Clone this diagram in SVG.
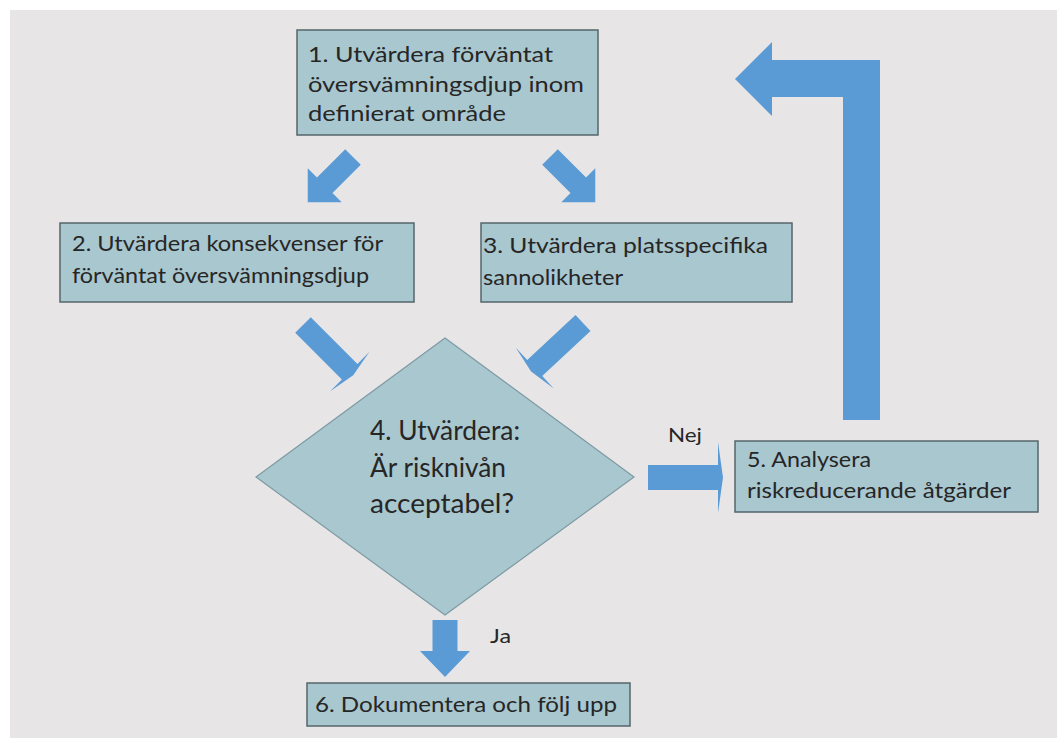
<svg xmlns="http://www.w3.org/2000/svg" width="1057" height="738" viewBox="0 0 1057 738">
<style>
.box{fill:#a9c7cf;stroke:#56656b;stroke-width:1.5}
.dia{fill:#a9c7cf;stroke:#7d9aa3;stroke-width:1.2}
.arr{fill:#5b9bd5}
.t{font-family:Lato,"Open Sans","Liberation Sans",sans-serif;font-size:21px;fill:#262626}
.td{font-family:Lato,"Open Sans","Liberation Sans",sans-serif;font-size:26px;fill:#262626}
.tl{font-family:Lato,"Open Sans","Liberation Sans",sans-serif;font-size:19px;fill:#262626}
</style>
<rect x="0" y="0" width="1057" height="738" fill="#ffffff"/>
<rect x="10" y="10" width="1047" height="728" fill="#e7e5e6"/>
<g id="connectors">
<path class="arr" transform="translate(353,157) rotate(135)" d="M0,-11 L40,-11 L40,-24 L64,0 L40,24 L40,11 L0,11 Z"/>
<path class="arr" transform="translate(550,157) rotate(45)" d="M0,-11 L40,-11 L40,-24 L64,0 L40,24 L40,11 L0,11 Z"/>
<path class="arr" transform="translate(303,325) rotate(45)" d="M0,-11 L66,-11 L66,-28 L71,0 L66,28 L66,11 L0,11 Z"/>
<path class="arr" transform="translate(583,323) rotate(137)" d="M0,-11 L66,-11 L66,-28 L71,0 L66,28 L66,11 L0,11 Z"/>
<path class="arr" d="M648,465 L718,465 L718,442 L723,477.5 L718,513 L718,490 L648,490 Z"/>
<path class="arr" d="M432.5,620 L457.5,620 L457.5,651 L470,651 L445,677 L420,651 L432.5,651 Z"/>
<path class="arr" d="M843,420 L880,420 L880,60 L772,60 L772,42 L735,79 L772,116 L772,97 L843,97 Z"/>
<text class="tl" x="668" y="442" textLength="34" lengthAdjust="spacingAndGlyphs">Nej</text>
<text class="tl" x="490" y="643" textLength="21" lengthAdjust="spacingAndGlyphs">Ja</text>
</g>
<g id="node1">
<rect class="box" x="297" y="30" width="301" height="105"/>
<text class="t" x="308" y="62" textLength="245" lengthAdjust="spacingAndGlyphs">1. Utvärdera förväntat</text>
<text class="t" x="308" y="92" textLength="276" lengthAdjust="spacingAndGlyphs">översvämningsdjup inom</text>
<text class="t" x="308" y="121" textLength="198" lengthAdjust="spacingAndGlyphs">definierat område</text>
</g>
<g id="node2">
<rect class="box" x="60" y="223" width="354" height="79"/>
<text class="t" x="72" y="251" textLength="311" lengthAdjust="spacingAndGlyphs">2. Utvärdera konsekvenser för</text>
<text class="t" x="72" y="283" textLength="297" lengthAdjust="spacingAndGlyphs">förväntat översvämningsdjup</text>
</g>
<g id="node3">
<rect class="box" x="481" y="223" width="311" height="79"/>
<text class="t" x="483" y="253" textLength="285" lengthAdjust="spacingAndGlyphs">3. Utvärdera platsspecifika</text>
<text class="t" x="483" y="285" textLength="140" lengthAdjust="spacingAndGlyphs">sannolikheter</text>
</g>
<g id="node4">
<polygon class="dia" points="445,338 634,477 445,615 256,477"/>
<text class="td" x="370" y="440" textLength="150" lengthAdjust="spacingAndGlyphs">4. Utvärdera:</text>
<text class="td" x="370" y="477" textLength="136" lengthAdjust="spacingAndGlyphs">Är risknivån</text>
<text class="td" x="370" y="513" textLength="144" lengthAdjust="spacingAndGlyphs">acceptabel?</text>
</g>
<g id="node5">
<rect class="box" x="735" y="441" width="303" height="71"/>
<text class="t" x="747" y="467" textLength="124" lengthAdjust="spacingAndGlyphs">5. Analysera</text>
<text class="t" x="747" y="498" textLength="264" lengthAdjust="spacingAndGlyphs">riskreducerande åtgärder</text>
</g>
<g id="node6">
<rect class="box" x="307" y="683" width="323" height="43"/>
<text class="t" x="315" y="712" textLength="302" lengthAdjust="spacingAndGlyphs">6. Dokumentera och följ upp</text>
</g>
</svg>
